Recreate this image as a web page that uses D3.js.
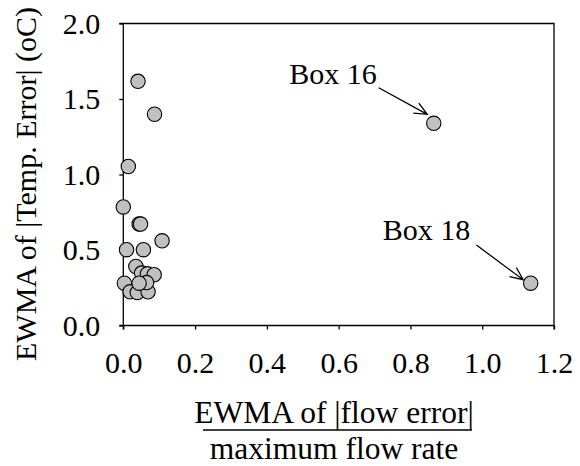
<!DOCTYPE html>
<html>
<head>
<meta charset="utf-8">
<script src="https://cdn.jsdelivr.net/npm/d3@7"></script>
</head>
<body style="margin:0;background:#fff">
<svg id="chart" width="580" height="466"></svg>
<script>
// Normalised flow error (x) and temperature error (y) per box
const flowError = [0.000, 0.044, 0.048, 0.108, 0.009, 0.056, 0.035, 0.051, 0.067, 0.086,
                   0.003, 0.019, 0.039, 0.069, 0.065, 0.044,
                   0.041, 0.087, 0.014, 0.865, 1.135];
const tempError = [0.785, 0.672, 0.672, 0.561, 0.502, 0.502, 0.391, 0.347, 0.342, 0.336,
                   0.280, 0.223, 0.218, 0.223, 0.284, 0.280,
                   1.617, 1.399, 1.053, 1.339, 0.280];
const xTicks = [0.0, 0.2, 0.4, 0.6, 0.8, 1.0, 1.2];
const yTicks = [0.0, 0.5, 1.0, 1.5, 2.0];

// Callouts: label, index of the point it refers to, label end (data units)
const calloutLabels = ["Box 16", "Box 18"];
const calloutPoint = [19, 20];
const calloutTextX = [0.706, 0.967];
const calloutTextY = [1.598, 0.563];

const FONT = "'Liberation Serif'";
const fontSize = 30;

const svg = d3.select("#chart");
const plotLeft = 123.3, plotRight = 554, plotTop = 23.5, plotBottom = 325.5;

const x = d3.scaleLinear().domain([0, 1.2]).range([plotLeft, plotRight]);
const y = d3.scaleLinear().domain([0, 2.0]).range([plotBottom, plotTop]);

function label(sel, size = fontSize) {
  return sel.style("font-family", FONT).style("font-size", size + "px").style("fill", "#000");
}

// Frame (top and right edges)
svg.append("path")
  .attr("d", `M${plotLeft - 4},${plotTop}H${plotRight}V${plotBottom + 4}`)
  .attr("fill", "none").attr("stroke", "#000").attr("stroke-width", 1.3);

// Axes
const xAxis = svg.append("g")
  .attr("transform", `translate(0,${plotBottom})`)
  .call(d3.axisBottom(x).tickValues(xTicks).tickFormat(d3.format(".1f"))
    .tickSizeInner(4).tickSizeOuter(0).tickPadding(22));
const yAxis = svg.append("g")
  .attr("transform", `translate(${plotLeft},0)`)
  .call(d3.axisLeft(y).tickValues(yTicks).tickFormat(d3.format(".1f"))
    .tickSizeInner(4).tickSizeOuter(0).tickPadding(19));

[xAxis, yAxis].forEach(g => {
  g.select(".domain").attr("stroke", "#000").attr("stroke-width", 1.3);
  g.selectAll(".tick line").attr("stroke", "#000").attr("stroke-width", 1.3);
  label(g.selectAll(".tick text"));
});
// extend the axis lines past the corner
xAxis.select(".domain").attr("d", `M${plotLeft - 4},0H${plotRight}`);
yAxis.select(".domain").attr("d", `M0,${plotTop}V${plotBottom + 4}`);

// Points
const pts = flowError.map((v, i) => ({ fx: v, te: tempError[i] }));
svg.append("g").selectAll("circle").data(pts).join("circle")
  .attr("cx", d => x(d.fx))
  .attr("cy", d => y(d.te))
  .attr("r", 7.2)
  .attr("fill", "#c0c0c0")
  .attr("stroke", "#000")
  .attr("stroke-width", 1.1);

// Callouts with open arrowheads
const tailOffset = [[2, 3.5], [6, 4.5]];
const headOffset = [[-6.5, -9], [-7.5, -3.5]];
calloutLabels.forEach((lab, i) => {
  const tx = x(calloutTextX[i]), ty = y(calloutTextY[i]);
  label(svg.append("text")
    .attr("x", tx).attr("y", ty)
    .attr("text-anchor", "end"))
    .text(lab);
  const p = pts[calloutPoint[i]];
  const x0 = tx + tailOffset[i][0], y0 = ty + tailOffset[i][1];
  const x1 = x(p.fx) + headOffset[i][0], y1 = y(p.te) + headOffset[i][1];
  const ang = Math.atan2(y1 - y0, x1 - x0);
  const hl = 14, ha = 0.42;
  const h1 = [x1 - hl * Math.cos(ang - ha), y1 - hl * Math.sin(ang - ha)];
  const h2 = [x1 - hl * Math.cos(ang + ha), y1 - hl * Math.sin(ang + ha)];
  svg.append("path")
    .attr("d", `M${x0},${y0}L${x1},${y1}M${h1[0]},${h1[1]}L${x1},${y1}L${h2[0]},${h2[1]}`)
    .attr("fill", "none").attr("stroke", "#000").attr("stroke-width", 1.3);
});

// X axis title as a fraction
const cx = 334;
label(svg.append("text")
  .attr("x", cx).attr("y", 423)
  .attr("text-anchor", "middle"), 31.5)
  .text("EWMA of |flow error|");
svg.append("line")
  .attr("x1", 203).attr("x2", 472)
  .attr("y1", 430).attr("y2", 430)
  .attr("stroke", "#000").attr("stroke-width", 1.5);
label(svg.append("text")
  .attr("x", cx).attr("y", 459)
  .attr("text-anchor", "middle"), 31.5)
  .text("maximum flow rate");

// Y axis title
label(svg.append("text")
  .attr("transform", `translate(36,184) rotate(-90)`)
  .attr("text-anchor", "middle"))
  .text("EWMA of |Temp. Error| (oC)");
</script>
</body>
</html>
